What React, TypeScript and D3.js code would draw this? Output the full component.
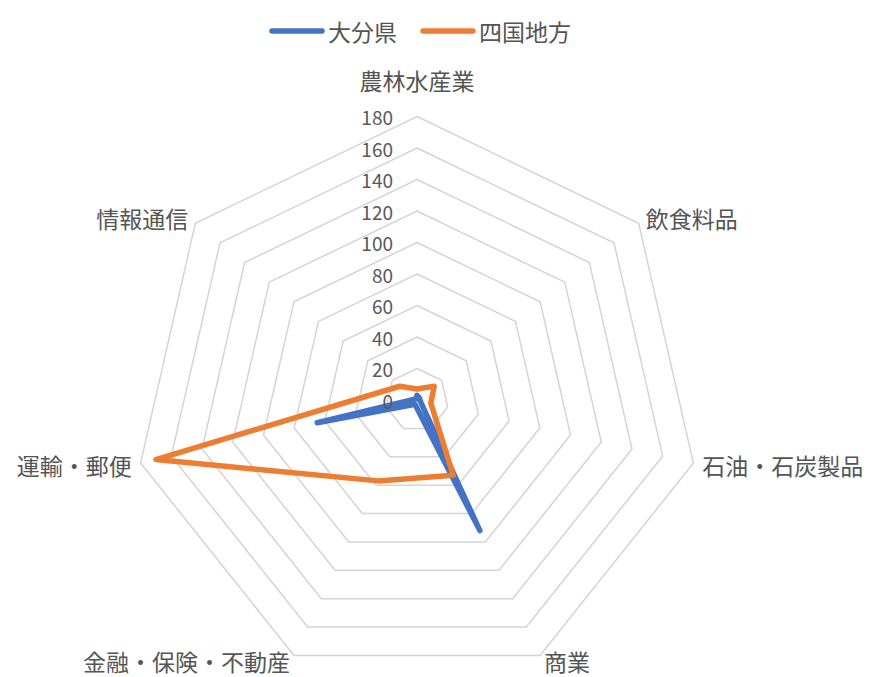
import * as d3 from "d3";

const width = 873;
const height = 677;
const cx = 417;
const cy = 400;
const radius = 283.5;

const categories = [
  "農林水産業",
  "飲食料品",
  "石油・石炭製品",
  "商業",
  "金融・保険・不動産",
  "運輸・郵便",
  "情報通信",
];

const oitaValues = [3, 2, 2, 92, 3, 65, 1];
const shikokuValues = [7, 14, 9, 53, 57, 170, 14];

const ticks = [0, 20, 40, 60, 80, 100, 120, 140, 160, 180];

const series = [
  { name: "大分県", values: oitaValues, color: "#4472C4" },
  { name: "四国地方", values: shikokuValues, color: "#ED7D31" },
];

const font = "'Noto Sans CJK JP', 'Noto Sans', sans-serif";

export default function App() {
  const n = categories.length;
  const angle = (i: number) => (i * 2 * Math.PI) / n;
  const r = d3.scaleLinear().domain([0, 180]).range([0, radius]);

  const ring = d3
    .lineRadial<number>()
    .angle((_, i) => angle(i))
    .radius((d) => r(d))
    .curve(d3.curveLinearClosed);

  return (
    <svg
      width={width}
      height={height}
      viewBox={`0 0 ${width} ${height}`}
      style={{ position: "absolute", left: 0, top: 0, background: "#fff" }}
      fontFamily={font}
    >
      {/* grid */}
      <g transform={`translate(${cx},${cy})`}>
        {ticks.slice(1).map((t) => (
          <path
            key={t}
            d={ring(categories.map(() => t)) ?? ""}
            fill="none"
            stroke="#d4d4d4"
            strokeWidth={1.5}
          />
        ))}
        {series.map((s) => (
          <path
            key={s.name}
            d={ring(s.values) ?? ""}
            fill="none"
            stroke={s.color}
            strokeWidth={5.5}
            strokeLinejoin="round"
          />
        ))}
      </g>

      {/* tick labels */}
      {ticks.map((t) => (
        <text
          key={t}
          x={cx - 24}
          y={cy - r(t)}
          textAnchor="end"
          dominantBaseline="central"
          fontSize={19}
          fill="#595959"
        >
          {t}
        </text>
      ))}

      {/* category labels */}
      {categories.map((c, i) => {
        const a = angle(i);
        const s = Math.sin(a);
        const cs = Math.cos(a);
        const isTop = i === 0;
        const x = isTop ? cx : cx + (radius + 9) * s;
        let y = isTop ? cy - radius - 37 : cy - (radius + 9) * cs;
        if (cs < -0.8) y = Math.min(y, 661);
        const anchor = Math.abs(s) < 0.1 ? "middle" : s > 0 ? "start" : "end";
        return (
          <text
            key={c}
            x={x}
            y={y}
            textAnchor={anchor}
            dominantBaseline="central"
            fontSize={23}
            fill="#555555"
          >
            {c}
          </text>
        );
      })}

      {/* legend */}
      {series.map((s, i) => {
        const x0 = 272 + i * 151;
        return (
          <g key={s.name}>
            <line
              x1={x0}
              x2={x0 + 50}
              y1={31}
              y2={31}
              stroke={s.color}
              strokeWidth={5.5}
              strokeLinecap="round"
            />
            <text
              x={x0 + 56}
              y={31}
              dominantBaseline="central"
              fontSize={23}
              fill="#555555"
            >
              {s.name}
            </text>
          </g>
        );
      })}
    </svg>
  );
}
